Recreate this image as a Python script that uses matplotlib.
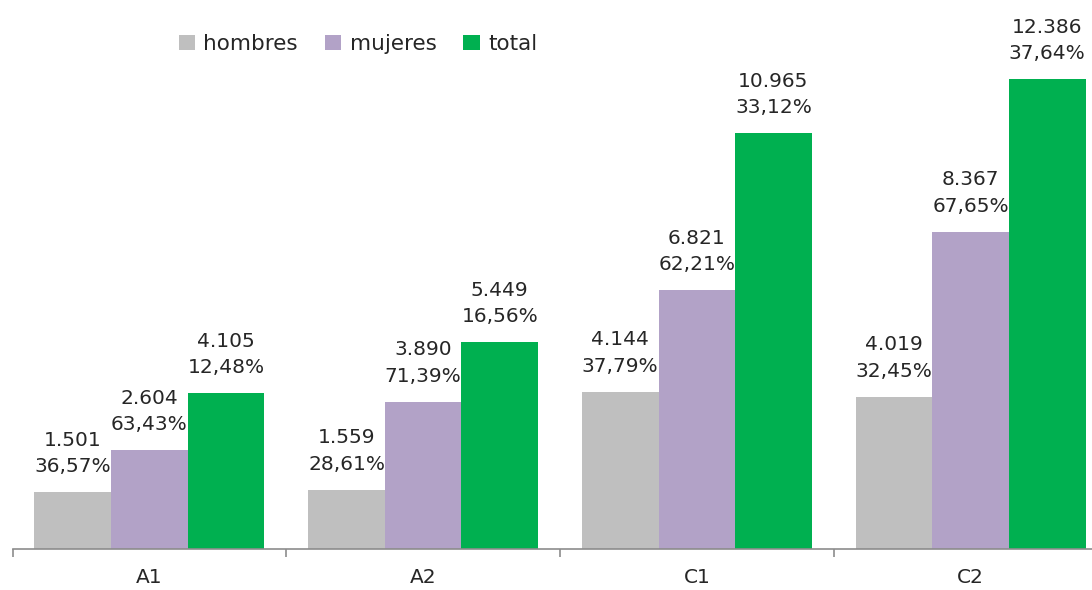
import matplotlib
matplotlib.use("Agg")
import matplotlib.pyplot as plt
import numpy as np
from matplotlib.patches import Patch

categories = ["A1", "A2", "C1", "C2"]
hombres = [1501, 1559, 4144, 4019]
mujeres = [2604, 3890, 6821, 8367]
total = [4105, 5449, 10965, 12386]
pct_hombres = ["36,57%", "28,61%", "37,79%", "32,45%"]
pct_mujeres = ["63,43%", "71,39%", "62,21%", "67,65%"]
pct_total = ["12,48%", "16,56%", "33,12%", "37,64%"]
series_names = ["hombres", "mujeres", "total"]
colors = ["#BFBFBF", "#B2A2C7", "#00B050"]

plt.rcParams['font.family'] = ['DejaVu Sans']

W, H = 1092, 590
fig = plt.figure(figsize=(W / 100, H / 100), dpi=100)
left = 12.6 / W
bottom = (H - 549) / H
ax = fig.add_axes([left, bottom, 4 * 273.7 / W, 549 / H])

x = np.arange(len(categories))
bw = 0.28
series = [hombres, mujeres, total]
pcts = [pct_hombres, pct_mujeres, pct_total]
for i, (vals, pc, col) in enumerate(zip(series, pcts, colors)):
    xs = x + (i - 1) * bw
    ax.bar(xs, vals, width=bw, color=col, edgecolor='none', zorder=2)
    for xi, v, p in zip(xs, vals, pc):
        lab = f"{v:,}".replace(",", ".") + "\n" + p
        ax.annotate(lab, (xi, v), xytext=(0, 11.5), textcoords='offset points',
                    ha='center', va='bottom', fontsize=14.5, color='#262626',
                    linespacing=1.5)

ax.set_xlim(-0.5, len(categories) - 0.5)
ax.set_ylim(0, 14480)
ax.set_yticks([])
for s in ['top', 'right', 'left']:
    ax.spines[s].set_visible(False)
ax.spines['bottom'].set_color('#8C8C8C')
ax.spines['bottom'].set_linewidth(1.2)
ax.spines['bottom'].set_clip_on(False)

ax.set_xticks(np.arange(-0.5, len(categories)), minor=False)
ax.set_xticklabels([])
ax.tick_params(axis='x', which='major', length=6, width=1.2, color='#8C8C8C')
ax.set_xticks(x, minor=True)
ax.set_xticklabels(categories, minor=True, fontsize=14.5, color='#262626')
ax.tick_params(axis='x', which='minor', length=0, pad=14)

handles = [Patch(facecolor=c, edgecolor='none') for c in colors]
fig.legend(handles, series_names, loc='center', bbox_to_anchor=(358 / W, 1 - 44 / H),
           ncol=3, frameon=False, fontsize=15.5, handlelength=0.75, handleheight=0.75,
           handletextpad=0.4, columnspacing=1.25, labelcolor='#262626')

fig.savefig("out.png", dpi=100)
